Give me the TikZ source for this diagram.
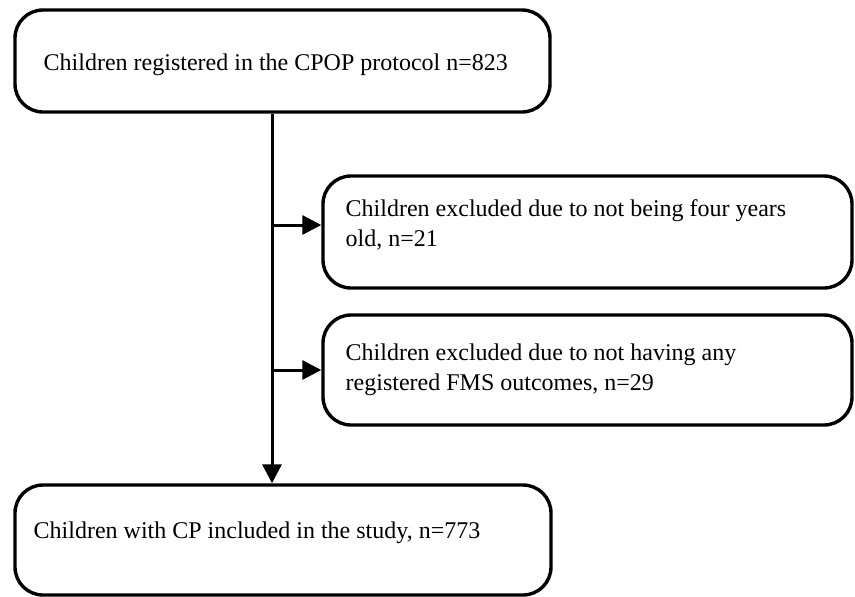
\documentclass[tikz,border=0pt]{standalone}
\usepackage{fontspec}
\setmainfont{Liberation Serif}
\usetikzlibrary{arrows.meta,calc}
\begin{document}
\begin{tikzpicture}[x=0.5pt,y=-0.5pt,
  box/.style={draw=black,line width=1.7pt,rounded corners=14pt,inner sep=0pt},
  txt/.style={anchor=west,align=left,inner sep=0pt,font=\fontsize{12}{15}\selectfont},
  arr/.style={line width=1.5pt,-{Triangle[length=9.5pt,width=9.5pt]}}]
\useasboundingbox (0,0) rectangle (855,596);
\node[box,minimum width=267.5pt,minimum height=51pt] (top) at (282.5,61) {};
\node[box,minimum width=264.5pt,minimum height=56pt] (ex1) at (587.5,232) {};
\node[box,minimum width=264.5pt,minimum height=55pt] (ex2) at (587.5,370) {};
\node[box,minimum width=268pt,minimum height=55pt] (bot) at (283,540) {};
\node[txt] (t0) at ($(top.west)+(30,4)$) {Children registered in the CPOP protocol n=823};
\node[txt] (t1) at ($(ex1.west)+(24,-7)$) {Children excluded due to not being four years\\old, n=21};
\node[txt] (t2) at ($(ex2.west)+(24,0)$) {Children excluded due to not having any\\registered FMS outcomes, n=29};
\node[txt] (t3) at ($(bot.west)+(20,-7)$) {Children with CP included in the study, n=773};
\coordinate (trunk) at (272,0);
\draw[arr] (trunk |- top.south) -- (trunk |- bot.north);
\draw[arr] (trunk |- t1) -- (t1 -| ex1.west);
\draw[arr] (trunk |- t2) -- (t2 -| ex2.west);
\end{tikzpicture}
\end{document}
